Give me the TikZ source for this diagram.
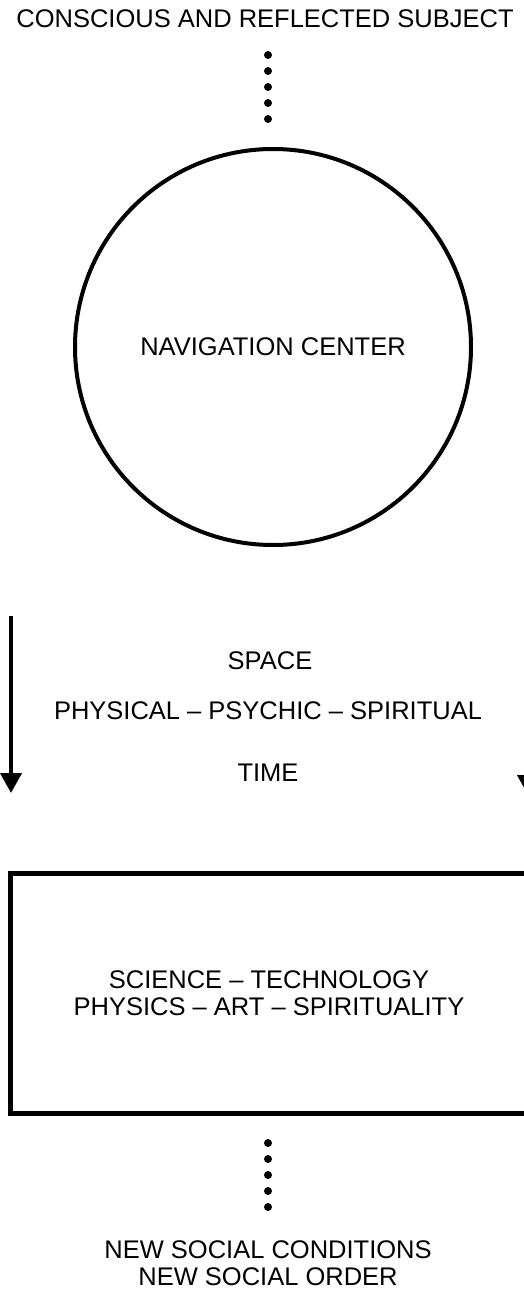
\documentclass[tikz,border=0pt]{standalone}
\usepackage{fontspec}
\setmainfont{Liberation Sans}
\usepackage{xcolor}
\usepackage{tikz}
\usetikzlibrary{arrows.meta,positioning}

\begin{document}
\begin{tikzpicture}[
  x=1pt, y=-1pt,
  label/.style={inner sep=0pt, outer sep=0pt, anchor=base, align=center, font=\fontsize{25.5}{27}\selectfont},
  hub/.style={draw, circle, line width=4pt, minimum size=396pt, inner sep=0pt, outer sep=0pt, font=\fontsize{25.5}{27}\selectfont},
  panel/.style={draw, line width=5pt, minimum width=517pt, minimum height=240pt, inner sep=0pt, outer sep=0pt, align=center, font=\fontsize{25.5}{27}\selectfont},
  dotline/.style={line width=8pt, line cap=round, dash pattern=on 0pt off 16pt},
  arrow/.style={line width=4pt, -{Triangle[width=21pt,length=20pt]}}
]
\useasboundingbox (0,0) rectangle (523,1297);

\node[label] (subject) at (265, 28) {CONSCIOUS AND REFLECTED SUBJECT};
\node[hub] (nav) at (273, 347) {NAVIGATION CENTER};

\node[label] (space) at (270, 669) {SPACE};
\node[label] (levels) at (268, 719) {PHYSICAL – PSYCHIC – SPIRITUAL};
\node[label] (time) at (268, 781) {TIME};

\node[panel] (fields) at (269, 993) {SCIENCE – TECHNOLOGY\\PHYSICS – ART – SPIRITUALITY};

\node[label, anchor=north] (social) at (268, 1241) {NEW SOCIAL CONDITIONS\\NEW SOCIAL ORDER};

% dotted links
\coordinate (d1a) at (268, 55);
\coordinate (d1b) at (268, 120);
\coordinate (d2a) at (268, 1143);
\coordinate (d2b) at (268, 1208);
\draw[dotline] (d1a) -- (d1b);
\draw[dotline] (d2a) -- (d2b);

% side arrows
\coordinate (la) at (11, 616);
\coordinate (lb) at (11, 793);
\coordinate (ra) at (528, 616);
\coordinate (rb) at (528, 795);
\draw[arrow] (la) -- (lb);
\draw[arrow] (ra) -- (rb);
\end{tikzpicture}
\end{document}
